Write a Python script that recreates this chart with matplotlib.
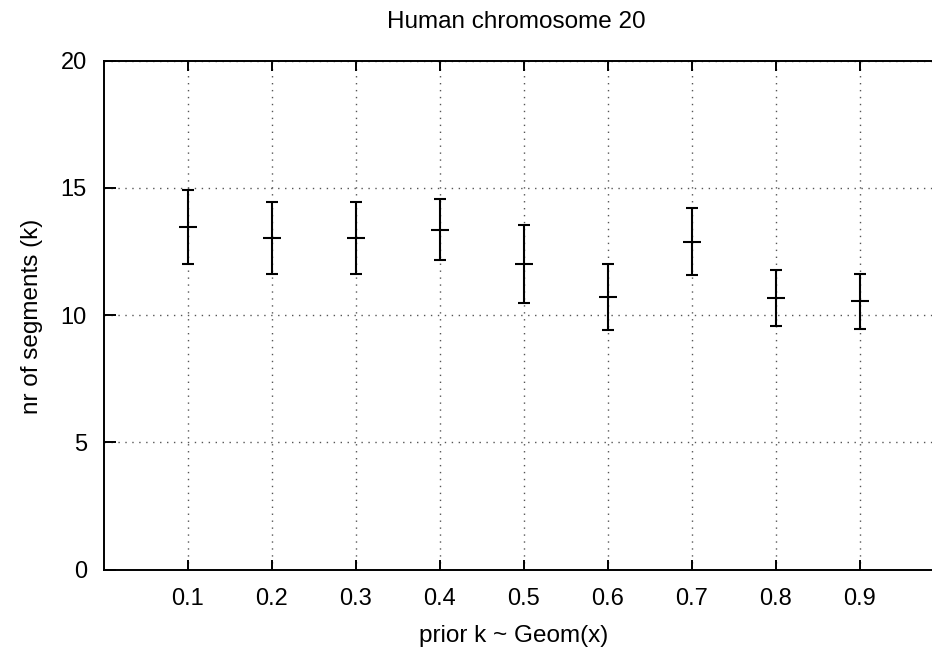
import matplotlib
matplotlib.use("Agg")
import matplotlib.pyplot as plt

plt.rcParams['font.family'] = ['Liberation Sans', 'DejaVu Sans']

prior_x = [0.1, 0.2, 0.3, 0.4, 0.5, 0.6, 0.7, 0.8, 0.9]
k_mean = [13.48, 13.03, 13.03, 13.36, 12.01, 10.71, 12.89, 10.67, 10.54]
k_low = [12.02, 11.62, 11.62, 12.17, 10.48, 9.41, 11.58, 9.57, 9.45]
k_high = [14.92, 14.43, 14.43, 14.55, 13.54, 12.00, 14.20, 11.77, 11.63]
x_ticks = [0.1, 0.2, 0.3, 0.4, 0.5, 0.6, 0.7, 0.8, 0.9]
y_ticks = [0, 5, 10, 15, 20]

W, H = 932, 657
fig = plt.figure(figsize=(W / 100, H / 100), dpi=100)
left, right, top, bottom = 103.5, 932, 60.7, 569.5
ax = fig.add_axes([left / W, 1 - bottom / H, (right - left) / W, (bottom - top) / H])

yerr = [[m - l for m, l in zip(k_mean, k_low)], [h - m for m, h in zip(k_mean, k_high)]]
ax.errorbar(prior_x, k_mean, yerr=yerr, fmt='_', color='black', ecolor='black',
            elinewidth=1.5, capsize=4.3, capthick=1.5, markersize=12.5,
            markeredgewidth=1.5, zorder=3)

ax.set_xlim(0.0, 0.9857)
ax.set_ylim(0, 20)
ax.set_xticks(x_ticks)
ax.set_xticklabels([f"{v:.1f}" for v in x_ticks])
ax.set_yticks(y_ticks)
ax.set_yticklabels([str(v) for v in y_ticks])

ax.grid(True, linestyle=(0, (1, 4)), color='#555555', linewidth=1.0)
ax.set_axisbelow(True)

for s in ['left', 'top', 'bottom']:
    ax.spines[s].set_linewidth(1.4)
ax.spines['right'].set_visible(False)

ax.tick_params(axis='x', direction='in', length=7.5, width=1.4, top=True,
               labelsize=17, pad=13)
ax.tick_params(axis='y', direction='in', length=8.5, width=1.4, right=False,
               labelsize=17, pad=12)

fig.text(516 / W, 1 - 28.3 / H, "Human chromosome 20", ha='center', va='baseline', fontsize=17.5)
fig.text(514 / W, 1 - 636 / H, "prior k ~ Geom(x)", ha='center', va='center', fontsize=17.5)
fig.text(32 / W, 1 - 316 / H, "nr of segments (k)", ha='center', va='center',
         rotation=90, fontsize=17.5)

fig.savefig("out.png", dpi=100)
